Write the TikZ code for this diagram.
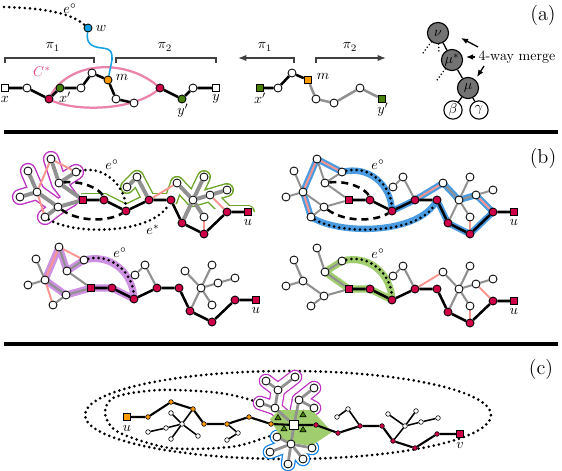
\documentclass[tikz,border=0pt]{standalone}
\usepackage{tikz}
\usetikzlibrary{arrows.meta,calc,shapes.geometric}
\definecolor{crim}{RGB}{205,0,72}
\definecolor{orng}{RGB}{255,155,0}
\definecolor{leaf}{RGB}{70,130,10}
\definecolor{sky}{RGB}{20,160,225}
\definecolor{rose}{RGB}{235,130,170}
\definecolor{rosetext}{RGB}{225,70,130}
\definecolor{salmon}{RGB}{250,150,145}
\definecolor{purp}{RGB}{190,50,195}
\definecolor{lime}{RGB}{110,165,40}
\definecolor{band}{RGB}{75,155,225}
\definecolor{lilac}{RGB}{205,145,225}
\definecolor{moss}{RGB}{160,205,110}
\definecolor{fog}{RGB}{145,145,145}
\definecolor{dark}{RGB}{115,115,115}
\pgfdeclarelayer{back}
\pgfdeclarelayer{edges}
\pgfsetlayers{back,edges,main}

% nodes of one graph in (b), placed round its root square
\newcommand{\bnodes}[1]{%
  \node[sqr,fill=crim] (#1R) at (0,0) {};
  \node[rn] (#1r1) at (21,0) {};
  \node[rn] (#1r2) at (43,11) {};
  \node[rn] (#1r3) at (66,0) {};
  \node[rn] (#1r4) at (88,0) {};
  \node[rn] (#1r5) at (99,23) {};
  \node[rn] (#1r6) at (121,34) {};
  \node[rn] (#1r7) at (144,12) {};
  \node[sqr,fill=crim] (#1u) at (165,12) {};
  \node (#1ul) at (165,22) {$u$};
  \node[wn] (#1w1) at (-32,-41) {};
  \node[wn] (#1w2) at (-55,-29) {};
  \node[wn] (#1w3) at (-7,-28) {};
  \node[wn] (#1w4) at (-24,-17) {};
  \node[wn] (#1w5) at (-46,-8) {};
  \node[wn] (#1w6) at (-63,-3) {};
  \node[wn] (#1w7) at (-25,7) {};
  \node[wn] (#1w8) at (-38,17) {};
  \node[wn] (#1w9) at (54,-23) {};
  \node[wn] (#1w10) at (44,-13) {};
  \node[wn] (#1w11) at (94,-17) {};
  \node[wn] (#1w12) at (121,-23) {};
  \node[wn] (#1w13) at (110,0) {};
  \node[wn] (#1w14) at (127,-5) {};
  \node[wn] (#1w15) at (144,-10) {};
  \node[wn] (#1w16) at (121,17) {};
  \node (#1eo) at (29,-35) {$e^\circ$};
}
% tree edges, the black path and the edge e°
\newcommand{\bedges}[2]{%
  \begin{pgfonlayer}{edges}
    \foreach \a/\b in {w2/w5,w6/w5,w5/w7,w8/w7,w7/R,w1/w4,w4/w3,w4/R,w10/w9,w9/r3,r5/w13,w13/w11,w13/w12,w13/w16,w13/w14,w14/w15}
      \draw[gry,line width=#2] (#1\a) -- (#1\b);
    \draw[blk] (#1R) -- (#1r1) -- (#1r2) -- (#1r3) -- (#1r4) -- (#1r5) -- (#1r6) -- (#1r7) -- (#1u);
    \draw[dots] (#1w3) .. controls +(27,-7) and +(-1,-26) .. (#1r2);
  \end{pgfonlayer}%
}

\begin{document}
\begin{tikzpicture}[x=0.25mm,y=-0.25mm,
    wn/.style={circle,draw,fill=white,line width=0.6pt,inner sep=0pt,minimum size=5.7pt},
    rn/.style={wn,fill=crim},
    sqr/.style={rectangle,draw,fill=white,line width=0.6pt,inner sep=0pt,minimum size=5.4pt},
    sn/.style={circle,draw,fill=white,line width=0.4pt,inner sep=0pt,minimum size=3.3pt},
    tn/.style={circle,draw,fill=dark,line width=0.8pt,inner sep=0pt,minimum size=15pt},
    tri/.style={regular polygon,regular polygon sides=3,draw,fill=leaf,line width=0.4pt,inner sep=0pt,minimum size=5pt},
    blk/.style={line width=1.8pt},
    gry/.style={fog,line width=1.4pt},
    pnk/.style={salmon,line width=1.4pt},
    dots/.style={line width=2.1pt,line cap=round,dash pattern=on 0pt off 3.7pt},
    fine dots/.style={line width=1.2pt,line cap=round,dash pattern=on 0pt off 2.4pt},
    dsh/.style={line width=1.8pt,dash pattern=on 5pt off 3.5pt},
    brk/.style={line width=0.8pt,black!75},
    fat/.style={line cap=round,line join=round},
    arr/.style={-{Latex[length=5pt,width=4pt]},line width=0.9pt}]
\useasboundingbox (0,0) rectangle (562,471);

% ---------- (a) ----------
\node[wn,fill=sky] (w) at (88,28) {};
\node[anchor=west] (wl) at (91,28) {$w$};
\coordinate (eo) at (4,7);
\node (eol) at (70,9) {$e^\circ$};
\node[sqr] (x) at (5,88) {};
\node[wn] (p1) at (27,88) {};
\node[rn] (p2) at (49,99) {};
\node[wn,fill=leaf] (xp) at (60,88) {};
\node[wn] (p3) at (81,88) {};
\node[wn] (p4) at (92,73) {};
\node[wn,fill=orng] (m) at (108,80) {};
\node[wn] (p5) at (116,99) {};
\node[wn] (p6) at (134,103) {};
\node[rn] (p7) at (160,88) {};
\node[wn,fill=leaf] (yp) at (182,99) {};
\node[wn] (p8) at (193,88) {};
\node[sqr] (y) at (216,88) {};
\node (xl) at (5,99) {$x$};
\node (xpl) at (65,97) {$x'$};
\node (ml) at (122,77) {$m$};
\node (ypl) at (183,111) {$y'$};
\node (yl) at (216,99) {$y$};
\node[text=rosetext] (cl) at (42,72) {$C^*$};
\node (pil) at (53,47) {$\pi_1$};
\node (pir) at (165,47) {$\pi_2$};
\draw[brk] (5,63) -- (5,58) -- (94,58) -- (94,63);
\draw[brk] (116,63) -- (116,58) -- (216,58) -- (216,63);
\begin{pgfonlayer}{back}
  \draw[rose,line width=1.6pt] (p2.center) .. controls (65,62) and (125,56) .. (p7.center)
    .. controls (135,112) and (70,112) .. (p2.center);
\end{pgfonlayer}
\begin{pgfonlayer}{edges}
  \draw[blk] (x) -- (p1) -- (p2) -- (xp) -- (p3) -- (p4) -- (m) -- (p5) -- (p6);
  \draw[blk] (p7) -- (yp) -- (p8) -- (y);
  \draw[dots] (eo) .. controls (40,8) and (70,12) .. (w);
  \draw[sky,line width=1.1pt] (w) .. controls (86,44) and (92,47) .. (102,48)
    .. controls (112,49) and (112,52) .. (112,60) -- (m);
\end{pgfonlayer}

% the two halves of the path
\node[sqr,fill=leaf] (xq) at (260,88) {};
\node[wn] (q1) at (278,88) {};
\node[wn] (q2) at (292,73) {};
\node[sqr,fill=orng] (mq) at (308,80) {};
\node[wn] (q3) at (316,99) {};
\node[wn] (q4) at (334,103) {};
\node[wn] (q5) at (360,88) {};
\node[sqr,fill=leaf] (yq) at (382,99) {};
\node (xql) at (260,98) {$x'$};
\node (mql) at (323,76) {$m$};
\node (yql) at (383,110) {$y'$};
\node (qil) at (265,47) {$\pi_1$};
\node (qir) at (350,47) {$\pi_2$};
\draw[brk,-{Latex[length=6pt,width=4.5pt]}] (294,63) -- (294,58) -- (238,58);
\draw[brk,-{Latex[length=6pt,width=4.5pt]}] (316,63) -- (316,58) -- (386,58);
\begin{pgfonlayer}{edges}
  \draw[blk] (xq) -- (q1) -- (q2) -- (mq);
  \draw[fog,line width=1.8pt] (mq) -- (q3) -- (q4) -- (q5) -- (yq);
\end{pgfonlayer}

% decomposition tree
\node[tn] (nu) at (438,33) {$\nu$};
\node[tn] (mus) at (452,60) {$\mu^*$};
\node[tn] (mu) at (468,88) {$\mu$};
\node[tn,fill=white,minimum size=13pt] (be) at (453,110) {$\beta$};
\node[tn,fill=white,minimum size=13pt] (ga) at (479,110) {$\gamma$};
\begin{pgfonlayer}{edges}
  \draw[line width=0.9pt] (nu) -- (mus) -- (mu) -- (be);
  \draw[line width=0.9pt] (mu) -- (ga);
\end{pgfonlayer}
\coordinate (d1) at (423,53);
\coordinate (d2) at (439,53);
\coordinate (d3) at (437,80);
\draw[fine dots] (nu) -- (d1);
\draw[fine dots] (nu) -- (d2);
\draw[fine dots] (mus) -- (d3);
\node (merge) at (517,57) {4-way merge};
\coordinate (g1) at (478,47);
\coordinate (h1) at (461,38);
\coordinate (g2) at (475,57);
\coordinate (h2) at (466,57);
\coordinate (g3) at (484,66);
\coordinate (h3) at (477,77);
\draw[arr] (g1) -- (h1);
\draw[arr] (g2) -- (h2);
\draw[arr] (g3) -- (h3);
\node (labA) at (543,15) {\Large(a)};

\draw[line width=2.2pt] (4,132) -- (558,132);
\draw[line width=2.2pt] (4,344) -- (558,344);

% ---------- (b) ----------
\node (labB) at (543,158) {\Large(b)};

% top left: the two trees round the path
\begin{scope}[shift={(83,200)}]
  \bnodes{tl}
  \bedges{tl}{2.8pt}
  \node (tles) at (70,30) {$e^*$};
  \coordinate (tlRl) at (-12,-1);
  \begin{pgfonlayer}{back}
    \foreach \c/\w in {purp/11.6pt,white/9.6pt}
      \foreach \a/\b in {w2/w5,w6/w5,w5/w7,w8/w7,w1/w4,w4/w3,w4/Rl,w7/Rl}
        \draw[fat,\c,line width=\w] (tl\a.center) -- (tl\b.center);
    \begin{scope}
      \clip (-2,-70) -- (-2,0) -- (21,0) -- (43,11) -- (66,0) -- (88,0) -- (100,9)
        -- (140,9) -- (144,12) -- (175,12) -- (175,-70) -- cycle;
      \foreach \c/\w in {lime/10pt,white/8pt}
        \foreach \a/\b in {R/r1,r1/r2,r2/r3,r3/r4,r3/w9,w9/w10,r4/w11,w13/w11,w13/w12,w13/w14,w14/w15,w14/r7,r7/u}
          \draw[fat,\c,line width=\w] (tl\a.center) -- (tl\b.center);
    \end{scope}
    \foreach \a/\b in {w1/w3,w1/w5,w5/w8,r3/w11,w14/r7,w16/r6}
      \draw[pnk] (tl\a) -- (tl\b);
  \end{pgfonlayer}
  \begin{pgfonlayer}{edges}
    \draw[dots] (tlw8) .. controls +(28,18) and +(-18,35) .. (tlr4);
    \draw[dsh] (tlw4) .. controls +(24,-3) and +(-3,-10) .. (tlr1);
    \draw[dsh] (tlw7) .. controls +(20,15) and +(-18,11) .. (tlr2);
  \end{pgfonlayer}
\end{scope}

% top right: the cycle through e° and e*
\begin{scope}[shift={(349,200)}]
  \bnodes{tr}
  \bedges{tr}{1.4pt}
  \begin{pgfonlayer}{back}
    \draw[fat,band,line width=4.5pt] (trw3.center) .. controls +(27,-7) and +(-1,-26) .. (trr2.center)
      -- (trr3.center) -- (trw11.center) -- (trw13.center) -- (trw14.center) -- (trr7.center)
      -- (trr6.center) -- (trr5.center) -- (trr4.center)
      .. controls +(-18,35) and +(28,18) .. (trw8.center) -- (trw5.center) -- (trw1.center) -- cycle;
    \foreach \a/\b in {w1/w3,w1/w5,w5/w8,r3/w11,w14/r7,w16/r6}
      \draw[pnk] (tr\a) -- (tr\b);
  \end{pgfonlayer}
  \begin{pgfonlayer}{edges}
    \draw[dots] (trw8) .. controls +(28,18) and +(-18,35) .. (trr4);
    \draw[dsh] (trw4) .. controls +(24,-3) and +(-3,-10) .. (trr1);
    \draw[dsh] (trw7) .. controls +(20,15) and +(-18,11) .. (trr2);
  \end{pgfonlayer}
\end{scope}

% bottom left
\begin{scope}[shift={(91,288)}]
  \bnodes{bl}
  \bedges{bl}{1.5pt}
  \begin{pgfonlayer}{back}
    \draw[fat,lilac,line width=5pt] (blR.center) -- (blw7.center) -- (blw5.center) -- (blw1.center)
      -- (blw4.center) -- (blw3.center) .. controls +(27,-7) and +(-1,-26) .. (blr2.center)
      -- (blr1.center) -- cycle;
    \foreach \a/\b in {w1/w3,w1/w5,w5/w8}
      \draw[pnk] (bl\a) -- (bl\b);
  \end{pgfonlayer}
\end{scope}

% bottom right
\begin{scope}[shift={(349,289)}]
  \bnodes{br}
  \bedges{br}{1.5pt}
  \begin{pgfonlayer}{back}
    \draw[fat,moss,line width=5pt] (brR.center) -- (brw4.center) -- (brw3.center)
      .. controls +(27,-7) and +(-1,-26) .. (brr2.center) -- (brr1.center) -- cycle;
    \foreach \a/\b in {r3/w11,w14/r7,w16/r6}
      \draw[pnk] (br\a) -- (br\b);
  \end{pgfonlayer}
\end{scope}

% ---------- (c) ----------
\node (labC) at (541,369) {\Large(c)};
\node[sqr,fill=orng] (cu) at (127,417) {};
\node (cul) at (127,428) {$u$};
\node[sqr,fill=crim] (cv) at (460,434) {};
\node (cvl) at (460,445) {$v$};
\node[sqr,minimum size=6.4pt] (cc) at (294,425) {};
\foreach \n/\x/\y in {o1/148/417,o2/171/402,o3/193/409,o4/204/424,o5/227/424,o6/249/417,o7/271/424}
  \node[sn,fill=orng] (\n) at (\x,\y) {};
\foreach \n/\x/\y in {s1/316/425,s2/338/433,s3/360/426,s4/382/426,s5/393/441,s6/415/448,s7/437/434}
  \node[sn,fill=crim] (\n) at (\x,\y) {};
\foreach \n/\x/\y in {lh/182/424,lw1/171/413,lw2/171/439,lw3/198/436,lw4/166/428,lw5/148/432,lw6/238/433,lw7/227/440,
    rw1/348/409,rw2/337/417,rh/405/426,rw3/388/414,rw4/416/411,rw5/421/422,rw6/438/418}
  \node[sn] (\n) at (\x,\y) {};
\foreach \n/\x/\y in {k1/275/408,k2/260/403,k3/278/390,k4/266/381,k5/295/377,k6/299/400,k7/314/388,k8/314/408,
    h0/291/444,h1/277/437,h2/270/452,h3/288/464,h4/303/459,h5/312/448}
  \node[wn] (\n) at (\x,\y) {};
\foreach \n/\x/\y in {t1/278/418,t2/303/415,t3/284/429,t4/303/430}
  \node[tri] (\n) at (\x,\y) {};
\coordinate (kc1) at ($(k1)!0.5!(cc)$);
\coordinate (kc6) at ($(k6)!0.5!(cc)$);
\coordinate (hc0) at ($(h0)!0.5!(cc)$);
\begin{pgfonlayer}{back}
  \draw[dots] (288,415) ellipse [x radius=50.75mm, y radius=11mm];
  \draw[dots] plot[smooth cycle] coordinates {(294,425) (262,404) (220,393) (160,390) (115,397) (105,413)
    (118,432) (170,448) (230,447) (264,438)};
  \foreach \c/\w in {purp/10.4pt,white/8.6pt}
    \foreach \a/\b in {k1/k2,k1/k3,k3/k4,k3/k5,k6/k7,k6/k8,k1/kc1,k6/kc6}
      \draw[fat,\c,line width=\w] (\a.center) -- (\b.center);
  \foreach \c/\w in {sky!80!blue/10.4pt,white/8.6pt}
    \foreach \a/\b in {h0/h1,h0/h2,h0/h3,h0/h4,h0/h5,h0/hc0}
      \draw[fat,\c,line width=\w] (\a.center) -- (\b.center);
  \fill[moss] (270,419) -- (279,410) -- (312,410) -- (332,432) -- (311,446) -- (283,441) -- cycle;
\end{pgfonlayer}
\begin{pgfonlayer}{edges}
  \foreach \a/\b in {cc/k1,k1/k2,k1/k3,k3/k4,k3/k5,cc/k6,k6/k7,k6/k8,cc/h0,h0/h1,h0/h2,h0/h3,h0/h4,h0/h5}
    \draw[fog,line width=2pt] (\a) -- (\b);
  \draw[line width=1.5pt] (cu) -- (o1) -- (o2) -- (o3) -- (o4) -- (o5) -- (o6) -- (o7) -- (cc)
    -- (s1) -- (s2) -- (s3) -- (s4) -- (s5) -- (s6) -- (s7) -- (cv);
  \foreach \a/\b in {o3/lh,lh/lw1,lh/lw2,lh/lw3,lh/lw4,lw4/lw5,o5/lw6,lw6/lw7,s3/rw1,rw1/rw2,s5/rh,rh/rw3,rh/rw4,rh/rw5,rw5/rw6}
    \draw[line width=1.1pt] (\a) -- (\b);
\end{pgfonlayer}
\end{tikzpicture}
\end{document}
